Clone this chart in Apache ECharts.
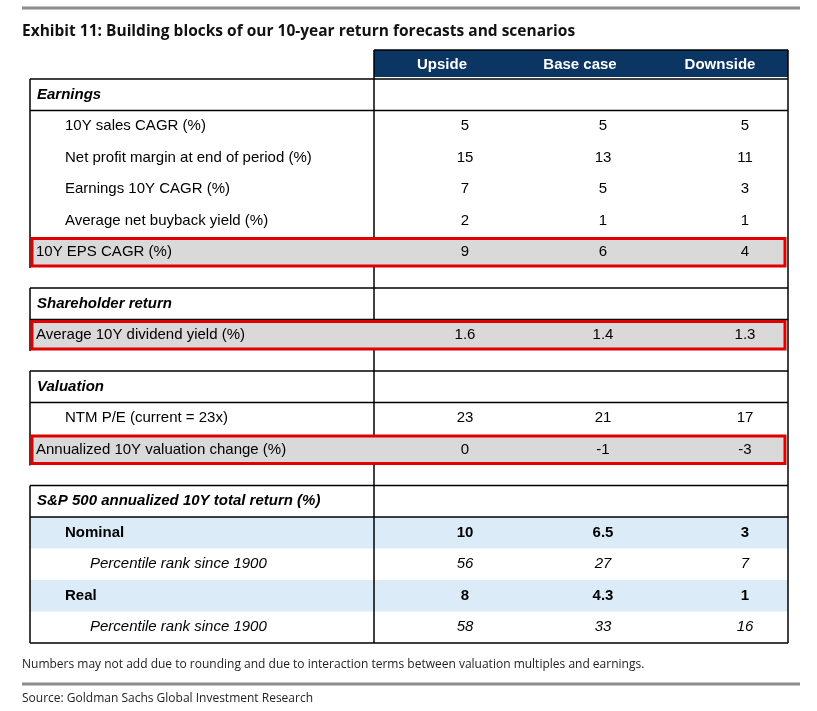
<!DOCTYPE html>
<html><head><meta charset="utf-8">
<script src="https://cdn.jsdelivr.net/npm/echarts@6/dist/echarts.min.js"></script>
<style>html,body{margin:0;padding:0;background:#fff}#c{width:817px;height:711px}</style>
</head><body><div id="c"></div>
<script>
const columns = ['Upside', 'Base case', 'Downside'];
// kind: h = section header, r = plain row (indented), x = highlighted row, b = blue bold row, p = italic percentile row
const earnings = [
  ['Earnings', 'h', []],
  ['10Y sales CAGR (%)', 'r', ['5', '5', '5']],
  ['Net profit margin at end of period (%)', 'r', ['15', '13', '11']],
  ['Earnings 10Y CAGR (%)', 'r', ['7', '5', '3']],
  ['Average net buyback yield (%)', 'r', ['2', '1', '1']],
  ['10Y EPS CAGR (%)', 'x', ['9', '6', '4']]
];
const shareholder = [
  ['Shareholder return', 'h', []],
  ['Average 10Y dividend yield (%)', 'x', ['1.6', '1.4', '1.3']]
];
const valuation = [
  ['Valuation', 'h', []],
  ['NTM P/E (current = 23x)', 'r', ['23', '21', '17']],
  ['Annualized 10Y valuation change (%)', 'x', ['0', '-1', '-3']]
];
const totalReturn = [
  ['S&P 500 annualized 10Y total return (%)', 'h', []],
  ['Nominal', 'b', ['10', '6.5', '3']],
  ['Percentile rank since 1900', 'p', ['56', '27', '7']],
  ['Real', 'b', ['8', '4.3', '1']],
  ['Percentile rank since 1900', 'p', ['58', '33', '16']]
];
const sections = [earnings, shareholder, valuation, totalReturn];

const L = 30, SEP = 374, R = 788, RH = 31.5, GAP = 20;
const colCx = [465, 603, 745], headCx = [442, 580, 720];
const font = 'Arial, "Liberation Sans", sans-serif';
const g = [];
const line = (x1, y1, x2, y2, c, w) => g.push({type: 'line', z: 5, shape: {x1, y1, x2, y2}, style: {stroke: c || '#000', lineWidth: w || 1.5}});
const text = (x, y, s, o) => g.push({type: 'text', z: 10, x, y,
  style: Object.assign({text: s, font: '15px ' + font, fill: '#000', align: 'left', verticalAlign: 'middle'}, o || {})});

// top rule and title
line(22, 8, 800, 8, '#8c8c8c', 3);
text(22, 32, 'Exhibit 11: Building blocks of our 10-year return forecasts and scenarios', {font: 'bold 15.5px "Open Sans", sans-serif', fill: '#111'});
// header
g.push({type: 'rect', z: 2, shape: {x: SEP, y: 50, width: R - SEP, height: 27}, style: {fill: '#0b3563'}});
columns.forEach((c, i) => text(headCx[i], 65, c, {font: 'bold 15px ' + font, fill: '#fff', align: 'center'}));

let y = 79;
sections.forEach((sec, si) => {
  const sTop = y;
  line(L, y, R, y);
  sec.forEach((row) => {
    const [label, kind, vals] = row;
    const cy = y + RH / 2;
    if (kind === 'x') g.push({type: 'rect', z: 6, shape: {x: L + 2, y: y + 2, width: R - L - 5, height: RH - 4}, style: {fill: '#d9d9d9', stroke: '#e00000', lineWidth: 3}});
    if (kind === 'b') g.push({type: 'rect', z: 1, shape: {x: L, y: y, width: R - L, height: RH}, style: {fill: '#dcebf8'}});
    if (kind === 'h') {
      text(L + 7, cy, label, {font: 'italic bold 15px ' + font});
    } else {
      const x = kind === 'r' ? L + 35 : kind === 'x' ? L + 6 : kind === 'b' ? L + 35 : L + 60;
      const f = kind === 'b' ? 'bold 15px ' : kind === 'p' ? 'italic 15px ' : '15px ';
      text(x, cy, label, {font: f + font});
      vals.forEach((v, i) => text(colCx[i], cy, v, {font: f + font, align: 'center'}));
    }
    y += RH;
    if (kind === 'h') line(L, y, R, y);
  });
  line(L, sTop, L, y);
  if (si === sections.length - 1) line(L, y, R, y);
  else y += GAP;
});
line(SEP, 50, SEP, y);
line(R, 50, R, y);
line(SEP, 50, R, 50);

text(22, 665, 'Numbers may not add due to rounding and due to interaction terms between valuation multiples and earnings.', {font: '12px "Open Sans", sans-serif', fill: '#222'});
line(22, 684, 800, 684, '#8c8c8c', 3);
text(22, 699, 'Source: Goldman Sachs Global Investment Research', {font: '12px "Open Sans", sans-serif', fill: '#222'});

const chart = echarts.init(document.getElementById('c'));
chart.setOption({graphic: {elements: g}});
</script></body></html>
